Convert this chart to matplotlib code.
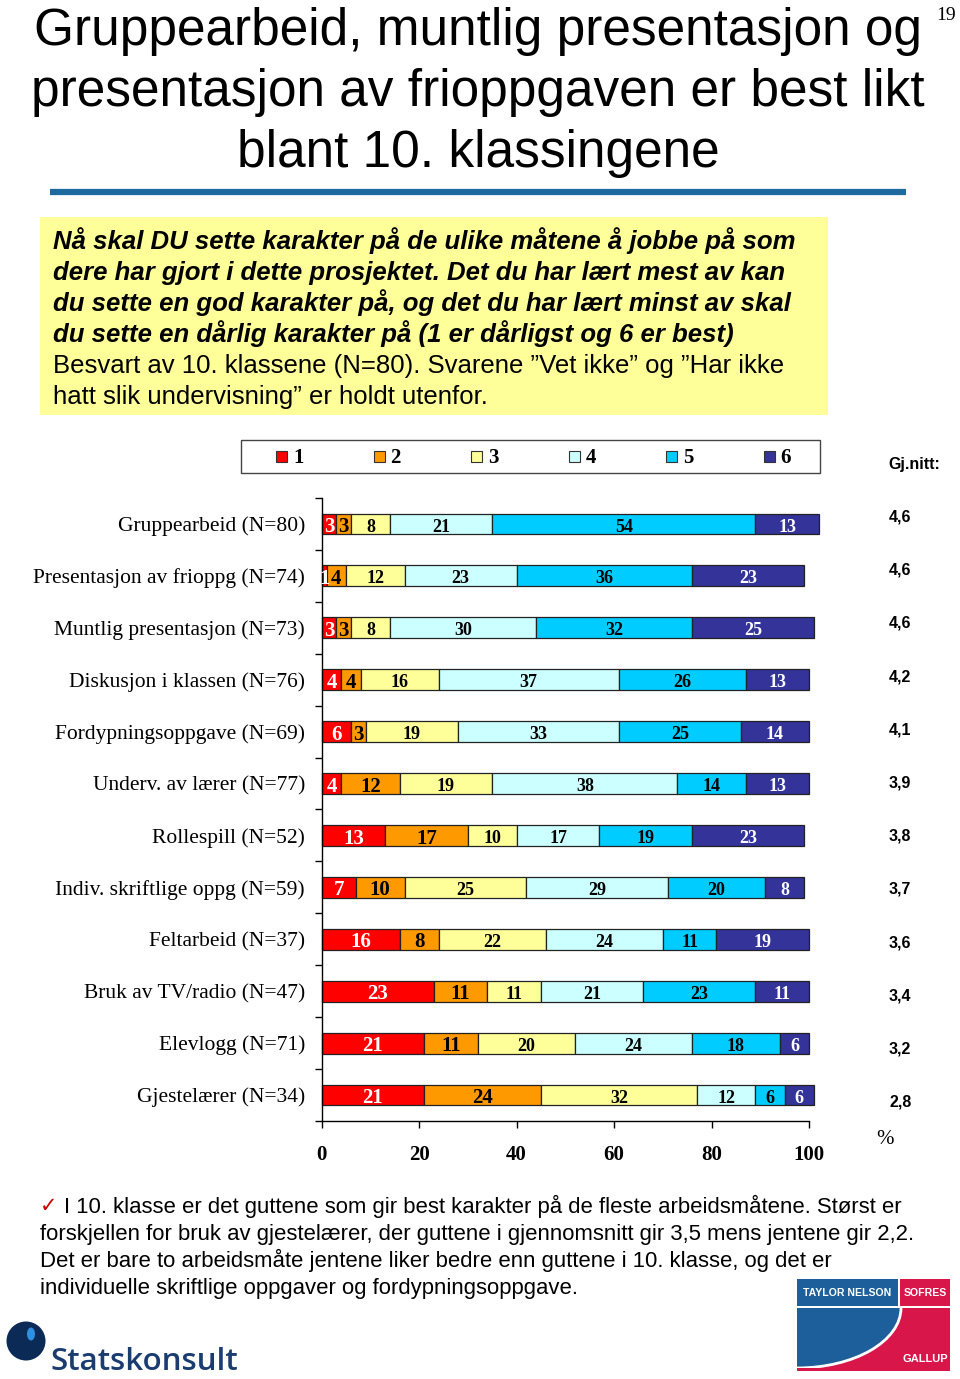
import matplotlib.pyplot as plt
from matplotlib.patches import Rectangle, Ellipse
import numpy as np

# categories (top to bottom) and share (%) giving each grade
categories = ['Gruppearbeid (N=80)', 'Presentasjon av frioppg (N=74)', 'Muntlig presentasjon (N=73)',
              'Diskusjon i klassen (N=76)', 'Fordypningsoppgave (N=69)', 'Underv. av lærer (N=77)',
              'Rollespill (N=52)', 'Indiv. skriftlige oppg (N=59)', 'Feltarbeid (N=37)',
              'Bruk av TV/radio (N=47)', 'Elevlogg (N=71)', 'Gjestelærer (N=34)']
grade1 = [3, 1, 3, 4, 6, 4, 13, 7, 16, 23, 21, 21]
grade2 = [3, 4, 3, 4, 3, 12, 17, 10, 8, 11, 11, 24]
grade3 = [8, 12, 8, 16, 19, 19, 10, 25, 22, 11, 20, 32]
grade4 = [21, 23, 30, 37, 33, 38, 17, 29, 24, 21, 24, 12]
grade5 = [54, 36, 32, 26, 25, 14, 19, 20, 11, 23, 18, 6]
grade6 = [13, 23, 25, 13, 14, 13, 23, 8, 19, 11, 6, 6]
grade_labels = ['1', '2', '3', '4', '5', '6']
averages = ['4,6', '4,6', '4,6', '4,2', '4,1', '3,9', '3,8', '3,7', '3,6', '3,4', '3,2', '2,8']
x_ticks = [0, 20, 40, 60, 80, 100]

colors = ['#FF0000', '#FF9900', '#FFFF99', '#CCFFFF', '#00CCFF', '#333399']
text_colors = ['white', 'black', 'black', 'black', 'black', 'white']
label_sizes = [15, 15, 13, 13, 13, 13]

W, H = 960, 1379
fig = plt.figure(figsize=(W / 100, H / 100), dpi=100)

# background axes in pixel coordinates for the page decorations
bg = fig.add_axes([0, 0, 1, 1], zorder=0)
bg.set_xlim(0, W)
bg.set_ylim(H, 0)
bg.axis('off')

sans = 'Liberation Sans'
serif = 'Liberation Serif'

# title
title_lines = ['Gruppearbeid, muntlig presentasjon og',
               'presentasjon av frioppgaven er best likt',
               'blant 10. klassingene']
for i, line in enumerate(title_lines):
    bg.text(478, 45 + i * 61, line, fontsize=37, family=sans, ha='center', va='baseline')
bg.text(946, 20, '19', fontsize=14, family=serif, ha='center', va='baseline')
bg.plot([50, 906], [192, 192], color='#1C6A9E', lw=4.5, solid_capstyle='butt')

# yellow question box
bg.add_patch(Rectangle((40, 217), 788, 198, facecolor='#FFFF99', edgecolor='none'))
box_bold = ['Nå skal DU sette karakter på de ulike måtene å jobbe på som',
            'dere har gjort i dette prosjektet. Det du har lært mest av kan',
            'du sette en god karakter på, og det du har lært minst av skal',
            'du sette en dårlig karakter på (1 er dårligst og 6 er best)']
box_plain = ['Besvart av 10. klassene (N=80). Svarene ”Vet ikke” og ”Har ikke',
             'hatt slik undervisning” er holdt utenfor.']
for i, line in enumerate(box_bold):
    bg.text(53, 249 + i * 31, line, fontsize=18.5, family=sans, weight='bold', style='italic', va='baseline')
for i, line in enumerate(box_plain):
    bg.text(53, 373 + i * 31, line, fontsize=18.5, family=sans, va='baseline')

# legend box
bg.add_patch(Rectangle((241, 440), 579, 33, facecolor='white', edgecolor='#444444', lw=1))
for i, g in enumerate(grade_labels):
    x0 = 276 + i * 97.5
    bg.add_patch(Rectangle((x0, 451), 11, 11, facecolor=colors[i], edgecolor='#333333', lw=0.8))
    bg.text(x0 + 17, 458, g, fontsize=15, family=serif, weight='bold', va='center', ha='left')
bg.text(888, 464, 'Gj.nitt:', fontsize=11.5, family=sans, weight='bold', va='center', ha='left')

# averages
for i, a in enumerate(averages):
    bg.text(889, 517 + i * 53.2, a, fontsize=11.5, family=sans, weight='bold', va='center', ha='left')
bg.text(885, 1140, '%', fontsize=15, family=serif, va='center', ha='center')

# bottom comment
bg.text(40, 1212, '✓', fontsize=15, family='DejaVu Sans', color='#CC0000', va='baseline')
bottom_lines = ['I 10. klasse er det guttene som gir best karakter på de fleste arbeidsmåtene. Størst er',
                'forskjellen for bruk av gjestelærer, der guttene i gjennomsnitt gir 3,5 mens jentene gir 2,2.',
                'Det er bare to arbeidsmåte jentene liker bedre enn guttene i 10. klasse, og det er',
                'individuelle skriftlige oppgaver og fordypningsoppgave.']
for i, line in enumerate(bottom_lines):
    bg.text(64 if i == 0 else 40, 1213 + i * 27, line, fontsize=15.9, family=sans, va='baseline')

# Statskonsult logo
bg.add_patch(Ellipse((26, 1341), 39, 39, facecolor='#0B2A55', edgecolor='none'))
bg.add_patch(Ellipse((31, 1334), 8, 13, facecolor='#2F8FE0', edgecolor='none'))
bg.text(50, 1370, 'Statskonsult', fontsize=22.5, family='Open Sans', weight='semibold',
        color='#1A3C6E', va='baseline')

# TNS Gallup logo
bg.add_patch(Rectangle((797, 1279), 101, 27, facecolor='#1D5F9B', edgecolor='none'))
bg.add_patch(Rectangle((900, 1279), 50, 27, facecolor='#D9164A', edgecolor='none'))
bg.add_patch(Rectangle((797, 1308), 153, 63, facecolor='#D9164A', edgecolor='none'))
clip = Rectangle((797, 1308), 153, 60, transform=bg.transData)
blue = Ellipse((797, 1308), 208, 120, facecolor='#1D5F9B', edgecolor='white', lw=2)
bg.add_patch(blue)
blue.set_clip_path(clip)
bg.text(847, 1293, 'TAYLOR NELSON', fontsize=7.6, family=sans,
        weight='bold', color='white', ha='center', va='center')
bg.text(925, 1293, 'SOFRES', fontsize=7.6, family=sans, weight='bold', color='white', ha='center', va='center')
bg.text(925, 1359, 'GALLUP', fontsize=8, family=sans, weight='bold', color='white', ha='center', va='center')

# main chart
ax = fig.add_axes([321.7 / W, 1 - 1121 / H, 487.3 / W, 623 / H], zorder=1)
ax.patch.set_alpha(0)
y = np.arange(len(categories))
series = [grade1, grade2, grade3, grade4, grade5, grade6]
left = np.zeros(len(categories))
for k, vals in enumerate(series):
    vals = np.array(vals, dtype=float)
    ax.barh(y, vals, left=left, height=0.4, color=colors[k], edgecolor='#222222',
            lw=0.9, clip_on=False, label=grade_labels[k])
    for yi, (l, v) in enumerate(zip(left, vals)):
        ax.text(l + v / 2, yi + 0.06, str(int(v)), ha='center', va='center', fontsize=label_sizes[k],
                family=serif, weight='bold', color=text_colors[k], clip_on=False)
    left += vals

ax.set_xlim(0, 100)
ax.set_ylim(len(categories) - 0.5, -0.5)
ax.set_yticks(y)
ax.set_yticklabels(categories, family=serif, fontsize=15.5)
ax.set_yticks(np.arange(len(categories) + 1) - 0.5, minor=True)
ax.tick_params(axis='y', which='major', length=0, pad=12)
ax.tick_params(axis='y', which='minor', length=5, width=1)
ax.set_xticks(x_ticks)
ax.set_xticklabels([str(t) for t in x_ticks], family=serif, fontsize=15, weight='bold')
ax.tick_params(axis='x', length=5, width=1, pad=12)
for s in ['top', 'right']:
    ax.spines[s].set_visible(False)
for s in ['left', 'bottom']:
    ax.spines[s].set_linewidth(1)

fig.savefig('out.png', dpi=100)
